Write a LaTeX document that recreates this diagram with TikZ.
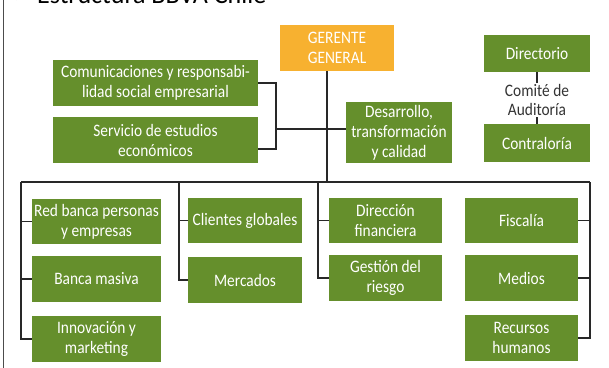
\documentclass[tikz,border=0pt]{standalone}
\usepackage{fontspec}
\setmainfont{Carlito}
\newfontfamily\orgfont{Carlito}[FakeStretch=0.88]
\usetikzlibrary{positioning,calc}

\definecolor{bbvagreen}{RGB}{101,143,44}
\definecolor{bbvaorange}{RGB}{247,177,48}
\definecolor{linegray}{RGB}{40,40,40}

\tikzset{
  unit/.style={fill=bbvagreen, text=white, align=center, inner sep=0pt,
    font=\orgfont\fontsize{17.5}{20}\selectfont},
  boss/.style={unit, fill=bbvaorange},
  link/.style={draw=linegray, line width=1.3pt},
}

\begin{document}
\begin{tikzpicture}[x=1pt, y=-1pt]
\useasboundingbox (0,0) rectangle (609,367);
\clip (0,0) rectangle (609,367);
% --- page frame and title ---
\draw[black!70, line width=0.8pt] (3,-5) -- (3,372);
\node[anchor=base west, inner sep=0pt, font=\fontsize{26}{26}\selectfont] (flecha) at (14,3) {>};
\node[anchor=base west, inner sep=0pt, font=\fontsize{26}{26}\selectfont] (titulo) at (37,3) {Estructura BBVA Chile};
% --- top level ---
\node[boss, minimum width=114, minimum height=46] (gg) at (337,48) {GERENTE\\GENERAL};
\node[unit, minimum width=106, minimum height=37] (dir) at (537,53.5) {Directorio};
\node[text=black!80, align=center, inner sep=0pt, minimum height=34, font=\orgfont\fontsize{17.5}{19}\selectfont] (comite) at (537,100) {Comité de\\Auditoría};
\node[unit, minimum width=106, minimum height=38] (contra) at (537,143) {Contraloría};
\node[unit, minimum width=205, minimum height=46] (com) at (155.5,83) {Comunicaciones y responsabi-\\lidad social empresarial};
\node[unit, minimum width=205, minimum height=46] (serv) at (155.5,140) {Servicio de estudios\\económicos};
\node[unit, minimum width=106, minimum height=61] (des) at (399,132.5) {Desarrollo,\\transformación\\y calidad};
% --- second level ---
\node[unit, minimum width=129, minimum height=45] (red) at (96.5,221.5) {Red banca personas\\y empresas};
\node[unit, minimum width=129, minimum height=46] (masiva) at (96.5,279) {Banca masiva};
\node[unit, minimum width=129, minimum height=46] (innov) at (96.5,339) {Innovación y\\marketing};
\node[unit, minimum width=114, minimum height=45] (clientes) at (245,220.5) {Clientes globales};
\node[unit, minimum width=114, minimum height=46] (merc) at (245,280) {Mercados};
\node[unit, minimum width=113, minimum height=45] (dirfin) at (385.5,220.5) {Dirección\\financiera};
\node[unit, minimum width=113, minimum height=46] (riesgo) at (385.5,278) {Gestión del\\riesgo};
\node[unit, minimum width=113, minimum height=45] (fisc) at (521.5,220.5) {Fiscalía};
\node[unit, minimum width=113, minimum height=46] (medios) at (521.5,278) {Medios};
\node[unit, minimum width=113, minimum height=46] (rrhh) at (521.5,338) {Recursos\\humanos};
% --- connectors ---
\coordinate (trunk) at (327,182);
\coordinate (brk) at (276,129);
\coordinate (busL) at (21,182);
\coordinate (busR) at (590,182);
\coordinate (c2) at (179,182);
\coordinate (c3) at (318,182);
\draw[link] (gg.south -| trunk) -- (trunk);
\draw[link] (com.east) -| (brk) |- ($(serv.east)+(0,9)$);
\draw[link] (brk) -- (des.west |- brk);
\draw[link] (dir.south) -- (comite.north);
\draw[link] (comite.south) -- (contra.north);
\draw[link] (busL) -- (busR);
\draw[link] (busL) |- (innov.west);
\draw[link] (busL |- red.west) -- (red.west);
\draw[link] (busL |- masiva.west) -- (masiva.west);
\draw[link] (c2) |- (merc.west);
\draw[link] (c2 |- clientes.west) -- (clientes.west);
\draw[link] (c3) |- (riesgo.west);
\draw[link] (c3 |- dirfin.west) -- (dirfin.west);
\draw[link] (busR) |- (rrhh.east);
\draw[link] (busR |- fisc.east) -- (fisc.east);
\draw[link] (busR |- medios.east) -- (medios.east);
\end{tikzpicture}
\end{document}
